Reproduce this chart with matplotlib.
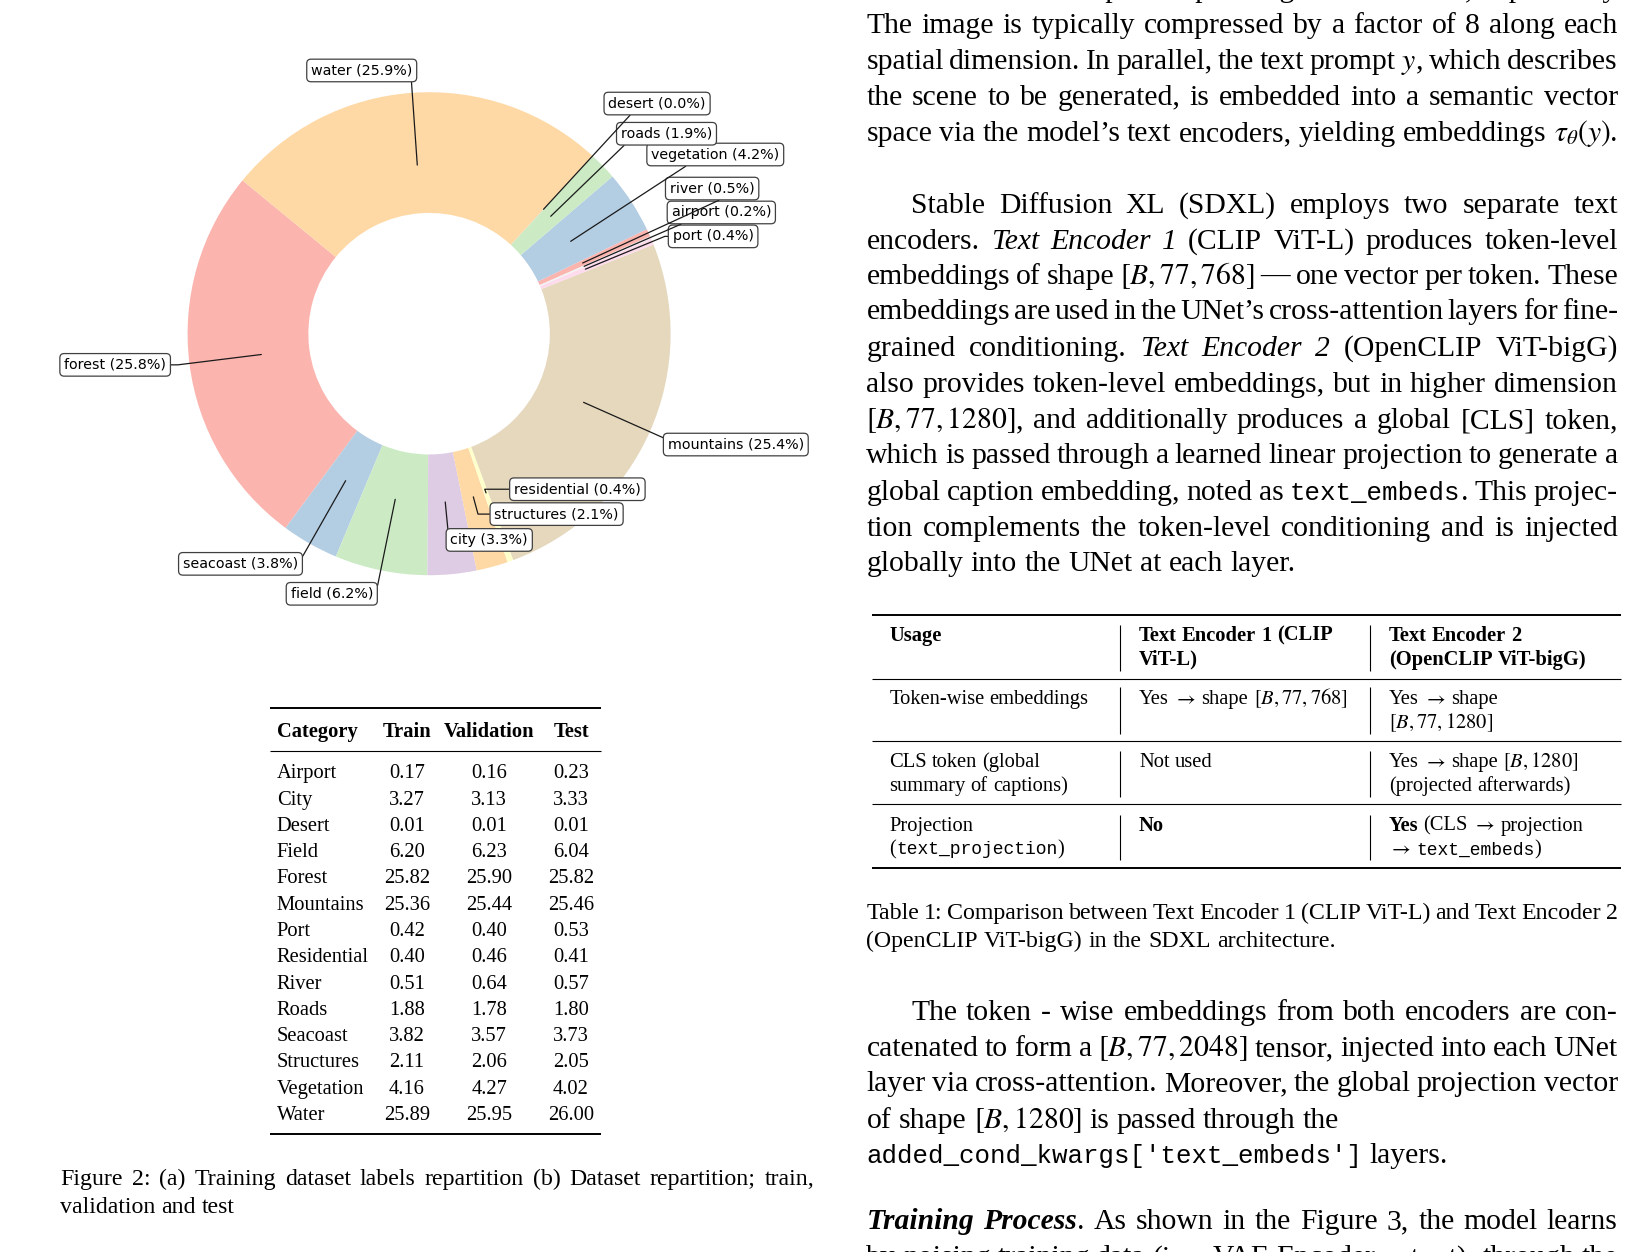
import re
import numpy as np
import matplotlib
matplotlib.use('Agg')
import matplotlib.pyplot as plt

plt.rcParams['mathtext.fontset'] = 'stix'
SERIF = 'Liberation Serif'
MONO = 'Liberation Mono'

# table (b): dataset repartition in %
table_rows = ['Airport', 'City', 'Desert', 'Field', 'Forest', 'Mountains', 'Port',
              'Residential', 'River', 'Roads', 'Seacoast', 'Structures',
              'Vegetation', 'Water']
train_col = [0.17, 3.27, 0.01, 6.20, 25.82, 25.36, 0.42, 0.40, 0.51, 1.88, 3.82,
             2.11, 4.16, 25.89]
val_col = [0.16, 3.13, 0.01, 6.23, 25.90, 25.44, 0.40, 0.46, 0.64, 1.78, 3.57,
           2.06, 4.27, 25.95]
test_col = [0.23, 3.33, 0.01, 6.04, 25.82, 25.46, 0.53, 0.41, 0.57, 1.80, 3.73,
            2.05, 4.02, 26.00]

# donut (a): order of the wedges, counter clockwise
categories = ['forest', 'seacoast', 'field', 'city', 'structures', 'residential',
              'mountains', 'port', 'airport', 'river', 'vegetation', 'roads',
              'desert', 'water']
share = [train_col[table_rows.index(c.capitalize())] for c in categories]

# where the label boxes sit (units of the outer radius)
label_pos = {
    'water': (-0.279, 1.090), 'desert': (0.944, 0.953), 'roads': (0.983, 0.828),
    'vegetation': (1.185, 0.742), 'river': (1.172, 0.601), 'airport': (1.210, 0.502),
    'port': (1.176, 0.403), 'mountains': (1.270, -0.459),
    'residential': (0.614, -0.644), 'structures': (0.528, -0.747),
    'city': (0.249, -0.854), 'field': (-0.403, -1.077),
    'seacoast': (-0.781, -0.953), 'forest': (-1.300, -0.129),
}

W, H = 1625, 1252
fig = plt.figure(figsize=(W / 100, H / 100), dpi=100)
ax = fig.add_axes([0, 0, 1, 1])
ax.set_xlim(0, W)
ax.set_ylim(H, 0)
ax.axis('off')
ren = fig.canvas.get_renderer()


def runs(s):
    out = []
    for tok in re.split(r'(\*\*\*.+?\*\*\*|\*\*.+?\*\*|\*.+?\*|`.+?`|\$.+?\$)', s):
        if not tok:
            continue
        if tok.startswith('***'):
            out.append((tok[3:-3], 'bi'))
        elif tok.startswith('**'):
            out.append((tok[2:-2], 'bf'))
        elif tok.startswith('*'):
            out.append((tok[1:-1], 'it'))
        elif tok.startswith('`'):
            out.append((tok[1:-1], 'tt'))
        elif tok.startswith('$'):
            out.append((tok, 'math'))
        else:
            out.append((tok, 'rm'))
    return out


def words(s):
    ws = [[]]
    for txt, st in runs(s):
        if st == 'math':
            ws[-1].append((txt, st))
            continue
        for k, p in enumerate(txt.split(' ')):
            if k > 0:
                ws.append([])
            if p:
                ws[-1].append((p, st))
    return [w for w in ws if w]


def style_kw(st, size):
    if st == 'it':
        return dict(family=SERIF, style='italic', fontsize=size)
    if st == 'bf':
        return dict(family=SERIF, weight='bold', fontsize=size)
    if st == 'bi':
        return dict(family=SERIF, weight='bold', style='italic', fontsize=size)
    if st == 'tt':
        return dict(family=MONO, fontsize=size * 0.875)
    return dict(family=SERIF, fontsize=size)


def draw_line(s, x0, yc, size, x1=None):
    y = yc + 0.32 * size * 100 / 72
    objs, widths = [], []
    for w in words(s):
        pieces, wd = [], 0
        for txt, st in w:
            t = ax.text(0, y, txt, va='baseline', ha='left', color='black',
                        **style_kw(st, size))
            pieces.append((t, wd))
            wd += t.get_window_extent(renderer=ren).width
        objs.append(pieces)
        widths.append(wd)
    sp = 0.25 * size * 100 / 72
    if x1 is not None and len(objs) > 1:
        sp = (x1 - x0 - sum(widths)) / (len(objs) - 1)
    x = x0
    for pieces, wd in zip(objs, widths):
        for t, off in pieces:
            t.set_x(x + off)
        x += wd + sp


# ---------------- right column text ----------------
BODY = 21.3
XL, XR, IND = 866.4, 1617.8, 911
body = [
    ("The VAE encoder maps the input image $x$ to its latent $z$, respectively", -12, XL, True),
    ("The image is typically compressed by a factor of 8 along each", 23.8, XL, True),
    ("spatial dimension. In parallel, the text prompt $y$, which describes", 59.1, XL, True),
    ("the scene to be generated, is embedded into a semantic vector", 95.3, XL, True),
    ("space via the model’s text encoders, yielding embeddings $\\tau_\\theta(y)$.", 131.6, XL, True),
    ("Stable Diffusion XL (SDXL) employs two separate text", 203.1, IND, True),
    ("encoders. *Text Encoder 1* (CLIP ViT-L) produces token-level", 239.4, XL, True),
    ("embeddings of shape $[B,77,768]$ — one vector per token. These", 274.6, XL, True),
    ("embeddings are used in the UNet’s cross-attention layers for fine-", 309.9, XL, True),
    ("grained conditioning. *Text Encoder 2* (OpenCLIP ViT-bigG)", 346.2, XL, True),
    ("also provides token-level embeddings, but in higher dimension", 382.4, XL, True),
    ("$[B,77,1280]$, and additionally produces a global [CLS] token,", 418.7, XL, True),
    ("which is passed through a learned linear projection to generate a", 453.9, XL, True),
    ("global caption embedding, noted as `text_embeds`. This projec-", 490.2, XL, True),
    ("tion complements the token-level conditioning and is injected", 526.5, XL, True),
    ("globally into the UNet at each layer.", 561.7, XL, False),
    ("The token - wise embeddings from both encoders are con-", 1010.5, IND, True),
    ("catenated to form a $[B,77,2048]$ tensor, injected into each UNet", 1046.8, XL, True),
    ("layer via cross-attention. Moreover, the global projection vector", 1082.0, XL, True),
    ("of shape $[B,1280]$ is passed through the", 1118.3, XL, False),
    ("`added_cond_kwargs['text_embeds']` layers.", 1153.5, XL, False),
    ("***Training Process***.  As shown in the Figure 3, the model learns", 1219.8, XL, True),
    ("by noising training data (i.e., VAE Encoder output), through the", 1256.0, XL, True),
]
for s, yc, x0, just in body:
    draw_line(s, x0, yc, BODY, XR if just else None)

# ---------------- table 1 (right) ----------------
TAB = 14.8
ax.hlines([614.6, 867.5], 871.6, 1621, color='black', lw=1.4)
ax.hlines([678.8, 741.0, 804.2], 871.6, 1621, color='black', lw=0.8)
for y0, y1 in [(625, 670.5), (687, 734), (751, 797), (814.6, 860)]:
    ax.vlines([1120.3, 1370.1], y0, y1, color='black', lw=0.8)
cols = [889.2, 1139.0, 1388.8]
cells = [
    (634.3, ["**Usage**", "**Text Encoder 1 (CLIP**", "**Text Encoder 2**"]),
    (658.1, ["", "**ViT-L)**", "**(OpenCLIP ViT-bigG)**"]),
    (697.5, ["Token-wise embeddings", "Yes $\\rightarrow$ shape $[B,77,768]$", "Yes $\\rightarrow$ shape"]),
    (721.3, ["", "", "$[B,77,1280]$"]),
    (760.7, ["CLS token (global", "Not used", "Yes $\\rightarrow$ shape $[B,1280]$"]),
    (784.6, ["summary of captions)", "", "(projected afterwards)"]),
    (824.0, ["Projection", "**No**", "**Yes** (CLS $\\rightarrow$ projection"]),
    (847.8, ["(`text_projection`)", "", "$\\rightarrow$ `text_embeds`)"]),
]
for yc, row in cells:
    for x0, s in zip(cols, row):
        if s:
            draw_line(s, x0, yc, TAB)

CAP = 17.2
draw_line("Table 1: Comparison between Text Encoder 1 (CLIP ViT-L) and Text Encoder 2",
          XL, 911.0, CAP, XR)
draw_line("(OpenCLIP ViT-bigG) in the SDXL architecture.", XL, 939.0, CAP)

# ---------------- table (b) left ----------------
ax.hlines([708.3, 1134.0], 270, 601, color='black', lw=1.4)
ax.hlines(750.7, 270, 601, color='black', lw=0.8)
off = 0.32 * TAB * 100 / 72
hdr_y = 730.7 + off
ax.text(276.7, hdr_y, 'Category', family=SERIF, weight='bold', fontsize=TAB, va='baseline')
for x, s in zip([406.7, 489.3, 571.0], ['Train', 'Validation', 'Test']):
    ax.text(x, hdr_y, s, family=SERIF, weight='bold', fontsize=TAB, va='baseline', ha='center')
for i, name in enumerate(table_rows):
    y = 771.7 + 26.28 * i + off
    ax.text(276.7, y, name, family=SERIF, fontsize=TAB, va='baseline')
    for x, col in zip([406.7, 489.3, 571.0], [train_col, val_col, test_col]):
        ax.text(x, y, f'{col[i]:.2f}', family=SERIF, fontsize=TAB, va='baseline', ha='center')

draw_line("Figure 2: (a) Training dataset labels repartition (b) Dataset repartition; train,",
          60.1, 1177.4, CAP, 814.6)
draw_line("validation and test", 60.1, 1205.3, CAP)

# ---------------- donut (a) ----------------
cx, cy, R, half = 429.1, 333.7, 241.5, 1.6
pax = fig.add_axes([(cx - half * R) / W, (H - cy - half * R) / H,
                    2 * half * R / W, 2 * half * R / H])
pastel = plt.colormaps['Pastel1'].colors
wedges, _ = pax.pie(share, startangle=140.6, radius=1,
                    colors=[pastel[i % 9] for i in range(len(share))],
                    wedgeprops=dict(width=0.5))
pax.set_xlim(-half, half)
pax.set_ylim(-half, half)
pax.set_aspect('equal')
pax.axis('off')
total = sum(share)
for w, name, v in zip(wedges, categories, share):
    ang = (w.theta1 + w.theta2) / 2
    px, py = 0.7 * np.cos(np.deg2rad(ang)), 0.7 * np.sin(np.deg2rad(ang))
    pax.annotate(f'{name} ({v / total * 100:.1f}%)', xy=(px, py), xytext=label_pos[name],
                 ha='center', va='center', fontsize=10.3,
                 bbox=dict(boxstyle='round,pad=0.3', fc='white', ec='0.25', lw=0.9),
                 arrowprops=dict(arrowstyle='-', color='0.1', lw=0.9, shrinkA=0, shrinkB=0,
                                 connectionstyle=f'angle,angleA=0,angleB={ang}'))

fig.savefig('out.png', dpi=100)
